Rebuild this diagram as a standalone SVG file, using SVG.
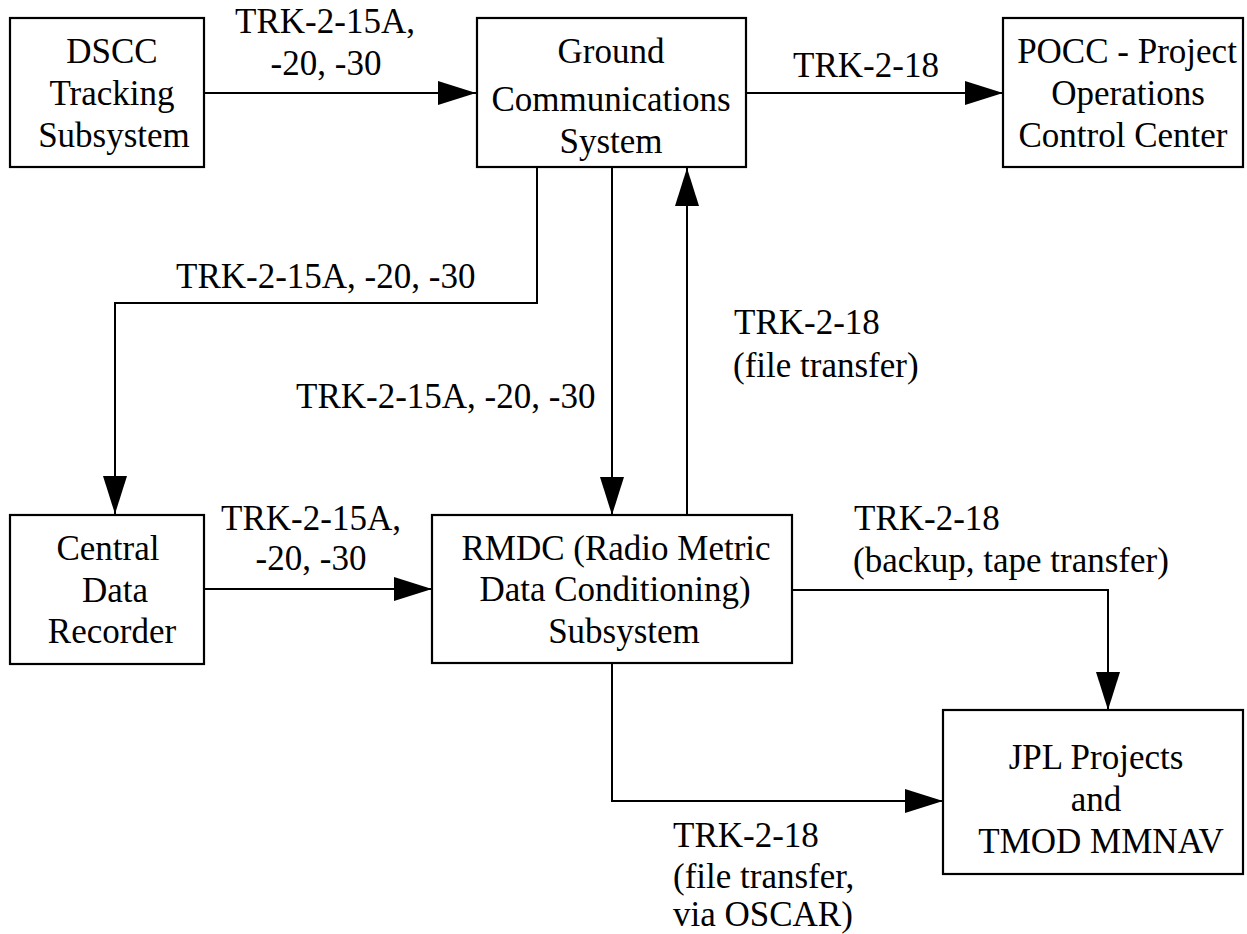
<svg xmlns="http://www.w3.org/2000/svg" width="1247" height="934" viewBox="0 0 1247 934">
<style>
.box{fill:#fff;stroke:#000;stroke-width:2.2}
.t{font-family:'Liberation Serif','Times New Roman',Times,serif;font-size:35px;fill:#000}
.m{text-anchor:middle}
.c{fill:none;stroke:#000;stroke-width:2}
</style>
<defs>
<marker id="ah" markerUnits="userSpaceOnUse" viewBox="0 0 38 24" refX="38" refY="12" markerWidth="38" markerHeight="24" orient="auto">
<path d="M0,0 L38,12 L0,24 z" fill="#000"/>
</marker>
</defs>
<rect width="1247" height="934" fill="#fff"/>
<g id="connectors">
<path class="c" d="M204,93 H476" marker-end="url(#ah)"/>
<path class="c" d="M746,93 H1003" marker-end="url(#ah)"/>
<path class="c" d="M537,167 V303 H115 V514" marker-end="url(#ah)"/>
<path class="c" d="M612,167 V515" marker-end="url(#ah)"/>
<path class="c" d="M687,515 V168" marker-end="url(#ah)"/>
<path class="c" d="M204,589 H432" marker-end="url(#ah)"/>
<path class="c" d="M792,590 H1108 V710" marker-end="url(#ah)"/>
<path class="c" d="M612,663 V801 H943" marker-end="url(#ah)"/>
<g class="t">
<text class="m" x="325" y="33">TRK-2-15A,</text>
<text class="m" x="326" y="75">-20, -30</text>
<text class="m" x="866" y="77">TRK-2-18</text>
<text x="176" y="288">TRK-2-15A, -20, -30</text>
<text x="296" y="408">TRK-2-15A, -20, -30</text>
<text x="734" y="334">TRK-2-18</text>
<text x="733" y="377">(file transfer)</text>
<text class="m" x="311" y="530">TRK-2-15A,</text>
<text class="m" x="311" y="570">-20, -30</text>
<text x="854" y="530">TRK-2-18</text>
<text x="853" y="572">(backup, tape transfer)</text>
<text x="673" y="847">TRK-2-18</text>
<text x="673" y="888">(file transfer,</text>
<text x="673" y="926">via OSCAR)</text>
</g>
</g>
<g id="dscc" class="t">
<rect class="box" x="10" y="18" width="194" height="149"/>
<text class="m" x="112" y="63">DSCC</text>
<text class="m" x="112" y="105">Tracking</text>
<text class="m" x="114" y="147">Subsystem</text>
</g>
<g id="gcs" class="t">
<rect class="box" x="477" y="18" width="269" height="149"/>
<text class="m" x="611" y="63">Ground</text>
<text class="m" x="611" y="111">Communications</text>
<text class="m" x="611" y="153">System</text>
</g>
<g id="pocc" class="t">
<rect class="box" x="1003" y="18" width="240" height="149"/>
<text class="m" x="1127" y="63">POCC - Project</text>
<text class="m" x="1128" y="105">Operations</text>
<text class="m" x="1123" y="147">Control Center</text>
</g>
<g id="cdr" class="t">
<rect class="box" x="10" y="515" width="194" height="149"/>
<text class="m" x="108" y="560">Central</text>
<text class="m" x="115" y="602">Data</text>
<text class="m" x="112" y="643">Recorder</text>
</g>
<g id="rmdc" class="t">
<rect class="box" x="432" y="515" width="360" height="148"/>
<text class="m" x="616" y="560">RMDC (Radio Metric</text>
<text class="m" x="615" y="601">Data Conditioning)</text>
<text class="m" x="624" y="643">Subsystem</text>
</g>
<g id="jpl" class="t">
<rect class="box" x="943" y="710" width="300" height="164"/>
<text class="m" x="1096" y="769">JPL Projects</text>
<text class="m" x="1096" y="811">and</text>
<text class="m" x="1101" y="853">TMOD MMNAV</text>
</g>
</svg>
